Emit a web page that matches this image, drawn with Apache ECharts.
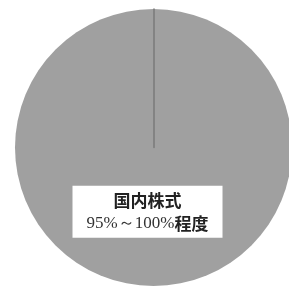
<!DOCTYPE html>
<html><head><meta charset="utf-8">
<script src="https://cdn.jsdelivr.net/npm/echarts@6/dist/echarts.min.js"></script>
<style>html,body{margin:0;padding:0;background:#fff}#c{width:289px;height:288px}</style>
</head><body><div id="c"></div>
<script>
const categories = ['国内株式'];
const values = [100];
const rangeLabels = ['95%～100%程度'];

const chart = echarts.init(document.getElementById('c'), null, {renderer:'canvas'});
const center = [153.5, 147.5];
const radius = 138.5;
function styleText(s){
  // bold gothic for kanji, serif for digits/symbols
  return s.replace(/([\u4e00-\u9fff]+)/g, '{k|$1}').replace(/(^|\})([^{}]+)(?=\{|$)/g, '$1{n|$2}');
}
chart.setOption({
  animation: false,
  backgroundColor: '#fff',
  polar: {center: center, radius: radius},
  angleAxis: {show: false, startAngle: 90, min: 0, max: 100},
  radiusAxis: {
    min: 0, max: 1, z: 10,
    axisLine: {show: true, lineStyle: {color: '#7a7a7a', width: 1.5}},
    axisTick: {show: false}, axisLabel: {show: false}, splitLine: {show: false}
  },
  series: [{
    type: 'pie',
    center: center,
    radius: radius,
    startAngle: 90,
    silent: true,
    itemStyle: {color: '#a0a0a0'},
    labelLine: {show: false},
    label: {
      show: true,
      position: 'inside',
      offset: [-6, -8],
      formatter: function(p){ return styleText(p.name) + '\n' + styleText(rangeLabels[p.dataIndex]); },
      fontSize: 17,
      lineHeight: 23,
      color: '#222',
      backgroundColor: '#fff',
      width: 138,
      padding: [3, 6, 3, 6],
      align: 'center',
      rich: {
        k: {fontFamily: '"Noto Sans CJK JP", sans-serif', fontWeight: 'bold', fontSize: 17, lineHeight: 23, color: '#222'},
        n: {fontFamily: '"Liberation Serif", serif', fontSize: 17, lineHeight: 23, color: '#333'}
      }
    },
    data: categories.map((c, i) => ({name: c, value: values[i]}))
  }]
});
</script></body></html>
